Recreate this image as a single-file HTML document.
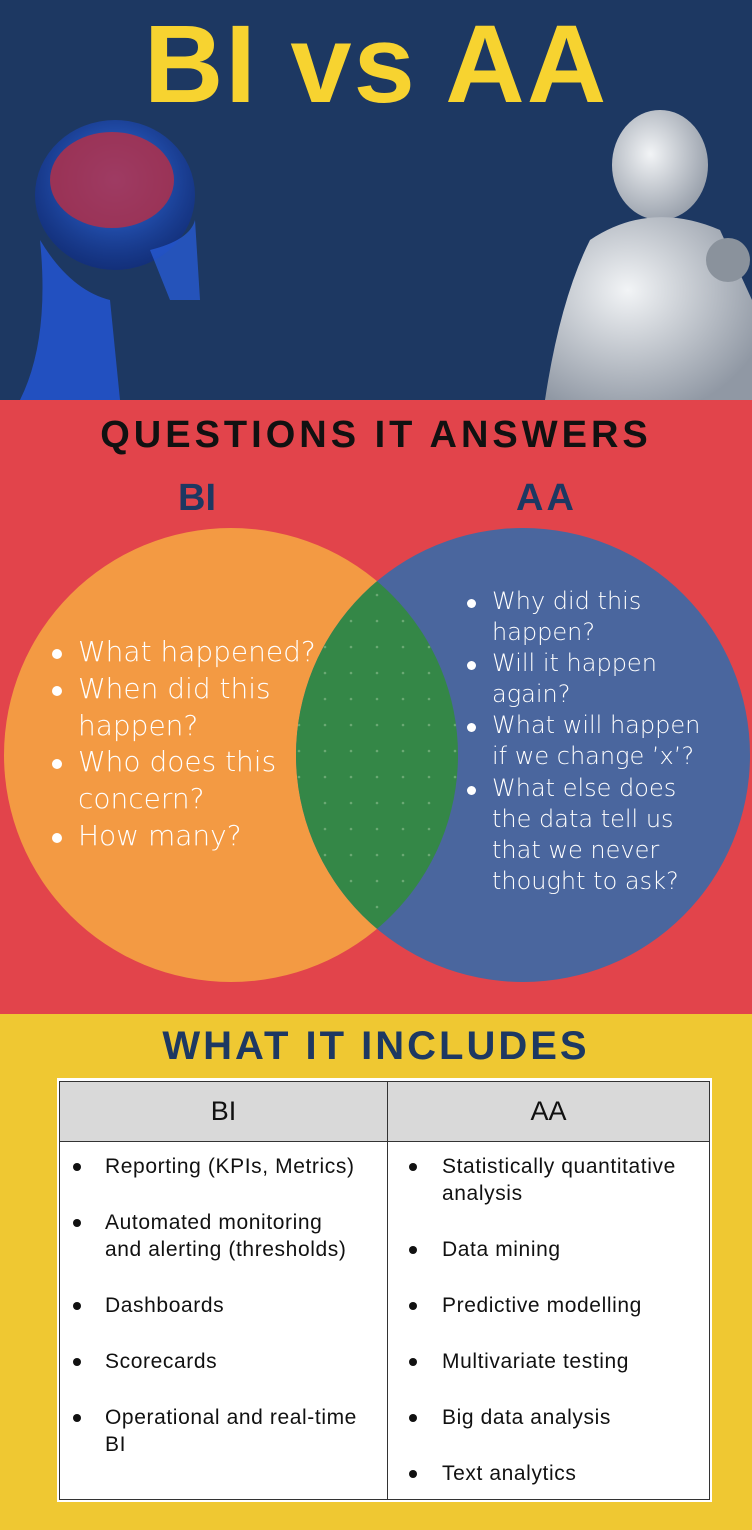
<!DOCTYPE html>
<html><head><meta charset="utf-8"><style>
*{margin:0;padding:0;box-sizing:border-box}
body{width:752px;height:1530px;position:relative;overflow:hidden;font-family:"Liberation Sans",sans-serif}
.a{position:absolute;white-space:nowrap}
.v{color:#fff;font-family:"DejaVu Sans","Liberation Sans",sans-serif;font-weight:300}
.t{font-size:21px;color:#111;letter-spacing:0.6px}
.d{position:absolute;width:8px;height:8px;border-radius:50%;background:#111}
.w{position:absolute;width:10px;height:10px;border-radius:50%;background:#fff}
</style></head><body>
<div class="a" style="left:0;top:0;width:752px;height:400px;background:#1d3862"></div>
<svg class="a" style="left:0;top:0" width="752" height="400">
<defs><radialGradient id="g1" cx="0.5" cy="0.4" r="0.6"><stop offset="0" stop-color="#3a7cf0"/><stop offset="1" stop-color="#0c2a8a" stop-opacity="0.6"/></radialGradient>
<radialGradient id="g2" cx="0.4" cy="0.4" r="0.7"><stop offset="0" stop-color="#f2f4f6"/><stop offset="1" stop-color="#9098a4"/></radialGradient></defs>
<ellipse cx="115" cy="195" rx="80" ry="75" fill="url(#g1)"/>
<ellipse cx="112" cy="180" rx="62" ry="48" fill="#b0304a" opacity="0.85"/>
<path d="M40 240 Q70 290 110 300 L120 400 L20 400 Q50 340 40 240Z" fill="#2456d8" opacity="0.8"/>
<path d="M150 250 Q190 240 195 220 L200 300 L170 300Z" fill="#2a5fe0" opacity="0.7"/>
<ellipse cx="660" cy="165" rx="48" ry="55" fill="url(#g2)"/>
<path d="M590 240 Q650 200 720 230 L752 300 L752 400 L545 400 Q560 300 590 240Z" fill="url(#g2)"/>
<circle cx="728" cy="260" r="22" fill="#8a929c"/>
</svg>
<div class="a" style="left:0;top:5px;width:752px;text-align:center;font-size:110px;font-weight:bold;color:#f7d330;line-height:120px;letter-spacing:2px">BI vs AA</div>

<div class="a" style="left:0;top:400px;width:752px;height:614px;background:#e2444b"></div>
<div class="a" style="left:0;top:414px;width:752px;text-align:center;font-size:38px;font-weight:bold;color:#111;letter-spacing:4px">QUESTIONS IT ANSWERS</div>
<div class="a" style="left:178px;top:477px;font-size:38px;font-weight:bold;color:#1d3862">BI</div>
<div class="a" style="left:516px;top:477px;font-size:38px;font-weight:bold;color:#1d3862;letter-spacing:3px">AA</div>
<svg class="a" style="left:0;top:400px" width="752" height="614">
<defs><clipPath id="c"><circle cx="231" cy="355" r="227"/></clipPath>
<pattern id="p" width="26" height="26" patternUnits="userSpaceOnUse"><circle cx="13" cy="13" r="1.3" fill="#6aa873"/></pattern></defs>
<circle cx="231" cy="355" r="227" fill="#f39a43"/>
<circle cx="523" cy="355" r="227" fill="#4a669e"/>
<g clip-path="url(#c)"><circle cx="523" cy="355" r="227" fill="#348747"/><circle cx="523" cy="355" r="227" fill="url(#p)"/></g>
</svg>
<div class="v">
<div class="w" style="left:52px;top:649px"></div><div class="a" style="left:78px;top:635px;font-size:28px">What happened?</div>
<div class="w" style="left:52px;top:686px"></div><div class="a" style="left:78px;top:672px;font-size:28px">When did this</div>
<div class="a" style="left:78px;top:709px;font-size:28px">happen?</div>
<div class="w" style="left:52px;top:759px"></div><div class="a" style="left:78px;top:745px;font-size:28px">Who does this</div>
<div class="a" style="left:78px;top:782px;font-size:28px">concern?</div>
<div class="w" style="left:52px;top:833px"></div><div class="a" style="left:78px;top:819px;font-size:28px">How many?</div>
<div class="w" style="left:467px;top:599px;width:9px;height:9px"></div><div class="a" style="left:492px;top:587px;font-size:24px">Why did this</div>
<div class="a" style="left:492px;top:618px;font-size:24px">happen?</div>
<div class="w" style="left:467px;top:661px;width:9px;height:9px"></div><div class="a" style="left:492px;top:649px;font-size:24px">Will it happen</div>
<div class="a" style="left:492px;top:680px;font-size:24px">again?</div>
<div class="w" style="left:467px;top:723px;width:9px;height:9px"></div><div class="a" style="left:492px;top:711px;font-size:24px">What will happen</div>
<div class="a" style="left:492px;top:742px;font-size:24px">if we change ’x’?</div>
<div class="w" style="left:467px;top:786px;width:9px;height:9px"></div><div class="a" style="left:492px;top:774px;font-size:24px">What else does</div>
<div class="a" style="left:492px;top:805px;font-size:24px">the data tell us</div>
<div class="a" style="left:492px;top:836px;font-size:24px">that we never</div>
<div class="a" style="left:492px;top:867px;font-size:24px">thought to ask?</div>
</div>

<div class="a" style="left:0;top:1014px;width:752px;height:516px;background:#efc832"></div>
<div class="a" style="left:0;top:1024px;width:752px;text-align:center;font-size:40px;font-weight:bold;color:#1d3862;letter-spacing:3px">WHAT IT INCLUDES</div>
<div class="a" style="left:57px;top:1078px;width:655px;height:424px;background:#fff"></div>
<div class="a" style="left:59px;top:1081px;width:651px;height:419px;border:1px solid #333;background:#fff"></div>
<div class="a" style="left:60px;top:1082px;width:649px;height:60px;background:#d9d9d9;border-bottom:1px solid #333"></div>
<div class="a" style="left:387px;top:1081px;width:1px;height:419px;background:#333"></div>
<div class="a" style="left:60px;top:1096px;width:327px;text-align:center;font-size:27px;color:#111">BI</div>
<div class="a" style="left:388px;top:1096px;width:321px;text-align:center;font-size:27px;color:#111">AA</div>
<div class="t">
<div class="d" style="left:73px;top:1163px"></div><div class="a" style="left:105px;top:1155px">Reporting (KPIs, Metrics)</div>
<div class="d" style="left:73px;top:1219px"></div><div class="a" style="left:105px;top:1211px">Automated monitoring</div>
<div class="a" style="left:105px;top:1238px">and alerting (thresholds)</div>
<div class="d" style="left:73px;top:1302px"></div><div class="a" style="left:105px;top:1294px">Dashboards</div>
<div class="d" style="left:73px;top:1358px"></div><div class="a" style="left:105px;top:1350px">Scorecards</div>
<div class="d" style="left:73px;top:1414px"></div><div class="a" style="left:105px;top:1406px">Operational and real-time</div>
<div class="a" style="left:105px;top:1433px">BI</div>
<div class="d" style="left:409px;top:1163px"></div><div class="a" style="left:442px;top:1155px">Statistically quantitative</div>
<div class="a" style="left:442px;top:1182px">analysis</div>
<div class="d" style="left:409px;top:1246px"></div><div class="a" style="left:442px;top:1238px">Data mining</div>
<div class="d" style="left:409px;top:1302px"></div><div class="a" style="left:442px;top:1294px">Predictive modelling</div>
<div class="d" style="left:409px;top:1358px"></div><div class="a" style="left:442px;top:1350px">Multivariate testing</div>
<div class="d" style="left:409px;top:1414px"></div><div class="a" style="left:442px;top:1406px">Big data analysis</div>
<div class="d" style="left:409px;top:1470px"></div><div class="a" style="left:442px;top:1462px">Text analytics</div>
</div>
</body></html>
